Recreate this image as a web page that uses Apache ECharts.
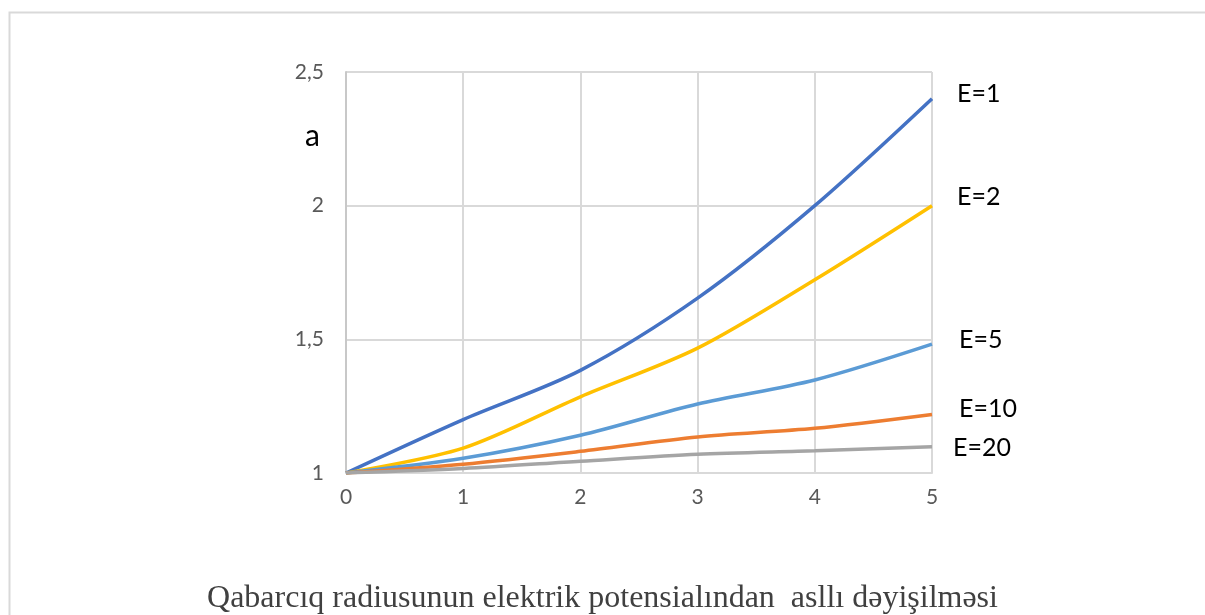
<!DOCTYPE html>
<html>
<head>
<meta charset="utf-8">
<script src="https://cdn.jsdelivr.net/npm/echarts@6/dist/echarts.min.js"></script>
<style>
html,body{margin:0;padding:0;background:#fff;}
#chart{width:1205px;height:615px;}
</style>
</head>
<body>
<div id="chart"></div>
<script>
// Data
const xValues = [0, 1, 2, 3, 4, 5];
const seriesNames = ['E=1', 'E=2', 'E=5', 'E=10', 'E=20'];
const e1 = [1, 1.20, 1.384, 1.654, 2.0, 2.40];
const e2 = [1, 1.093, 1.285, 1.467, 1.723, 2.0];
const e5 = [1, 1.055, 1.141, 1.258, 1.348, 1.482];
const e10 = [1, 1.033, 1.081, 1.135, 1.167, 1.219];
const e20 = [1, 1.017, 1.044, 1.070, 1.083, 1.098];
const yTicks = [1, 1.5, 2, 2.5];
const yAxisName = 'a';
const titleText = 'Qabarcıq radiusunun elektrik potensialından  asllı dəyişilməsi';

const allValues = [e1, e2, e5, e10, e20];
const colors = ['#4472C4', '#FFC000', '#5B9BD5', '#ED7D31', '#A5A5A5'];
const labelOffsets = [[25, -5], [25, -9], [27, -4], [27, -6], [21, 1]];

const chart = echarts.init(document.getElementById('chart'));
const option = {
  animation: false,
  backgroundColor: '#ffffff',
  grid: { left: 346, right: 273, top: 72, bottom: 142 },
  xAxis: {
    type: 'value', min: 0, max: 5, interval: 1,
    axisLine: { show: true, lineStyle: { color: '#d9d9d9', width: 2 } },
    axisTick: { show: false },
    axisLabel: { color: '#595959', fontFamily: 'Lato', fontSize: 21, margin: 14 },
    splitLine: { show: true, lineStyle: { color: '#d9d9d9', width: 2 } }
  },
  yAxis: {
    type: 'value', min: yTicks[0], max: yTicks[yTicks.length - 1], interval: 0.5,
    axisLine: { show: true, lineStyle: { color: '#c8c8c8', width: 2 } },
    axisTick: { show: false },
    axisLabel: {
      color: '#595959', fontFamily: 'Lato', fontSize: 21, margin: 22,
      formatter: v => String(v).replace('.', ',')
    },
    splitLine: { show: true, lineStyle: { color: '#d9d9d9', width: 2 } }
  },
  graphic: [
    { type: 'rect', left: 7, top: 10, shape: { width: 1300, height: 700 },
      style: { fill: 'none', stroke: '#d9d9d9', lineWidth: 2 }, silent: true },
    { type: 'text', left: 305, top: 121,
      style: { text: yAxisName, fill: '#000', font: '30px Lato' } },
    { type: 'text', left: 'center', top: 583,
      style: { text: titleText, fill: '#404040', font: '32px "Liberation Serif"' } }
  ],
  series: allValues.map((vals, i) => ({
    name: seriesNames[i],
    type: 'line',
    smooth: 0.3,
    symbol: 'none',
    data: xValues.map((x, j) => [x, vals[j]]),
    lineStyle: { color: colors[i], width: 3.5 },
    itemStyle: { color: colors[i] },
    endLabel: {
      show: true,
      formatter: seriesNames[i],
      color: '#000',
      fontFamily: 'Lato',
      fontSize: 25,
      distance: 0,
      offset: labelOffsets[i]
    }
  }))
};
chart.setOption(option);
</script>
</body>
</html>
